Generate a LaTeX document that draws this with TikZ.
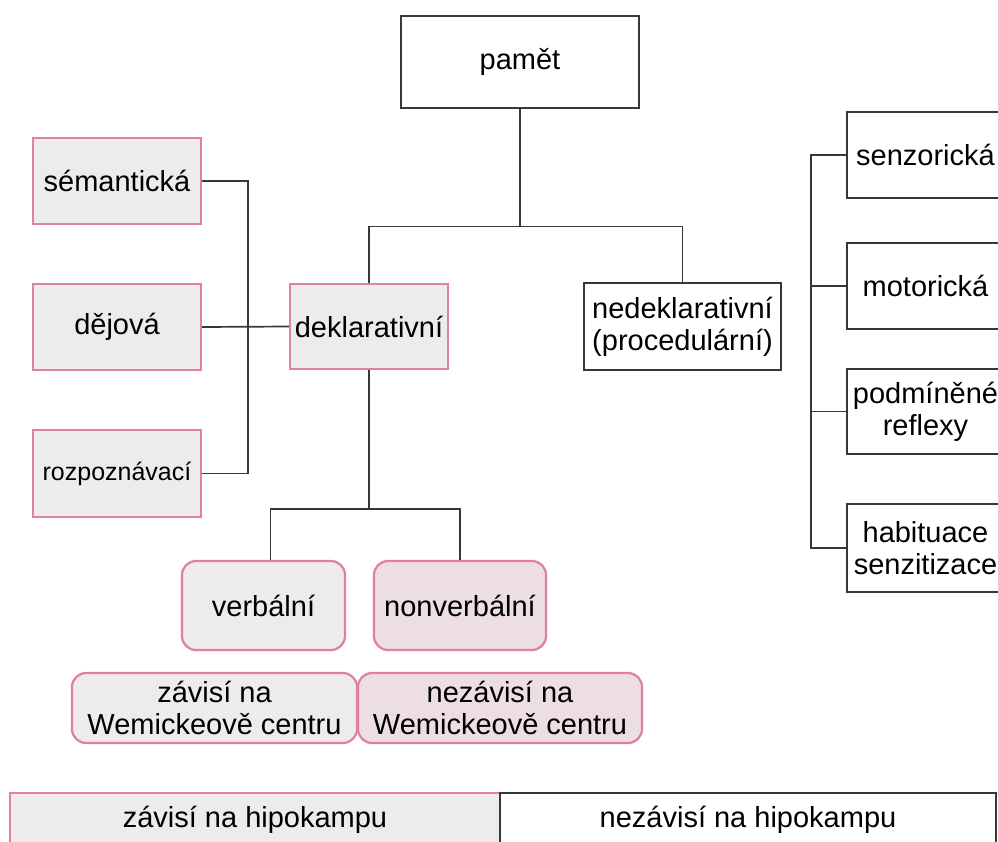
\documentclass[tikz,border=0pt]{standalone}
\usepackage{fontspec}
\setmainfont{Liberation Sans}
\usepackage{tikz}
\usetikzlibrary{positioning}
\usepackage{xcolor}
\definecolor{pinkline}{RGB}{222,128,158}
\definecolor{graybox}{RGB}{238,235,236}
\definecolor{pinkbox}{RGB}{236,222,226}
\definecolor{darkline}{RGB}{55,55,55}
\tikzset{
  basebox/.style={
    rectangle, align=center, inner sep=2pt, font=\fontsize{29}{32}\selectfont
  },
  plainbox/.style={basebox, draw=darkline, line width=1.8pt, fill=white},
  markbox/.style={basebox, draw=pinkline, line width=2.2pt, fill=graybox},
  softbox/.style={markbox, rounded corners=14pt},
  softpink/.style={softbox, fill=pinkbox},
  link/.style={draw=darkline, line width=1.7pt}
}

\begin{document}
\begin{tikzpicture}[x=1pt,y=-1pt]
  \useasboundingbox (0,0) rectangle (998,841);
  \clip (0,0) rectangle (998,841);

  % root and first split
  \node[plainbox,line width=2.8pt,minimum width=238pt,minimum height=92pt] (pamet) at (520,62) {pamět};
  \node[markbox,minimum width=158pt,minimum height=85pt] (dekl) at (369,326.5) {deklarativní};
  \node[plainbox,minimum width=197pt,minimum height=87pt] (nedekl) at (682.5,326.5) {nedeklarativní\\(procedulární)};

  % declarative kinds
  \node[markbox,minimum width=168pt,minimum height=86pt] (sem) at (117,181) {sémantická};
  \node[markbox,minimum width=168pt,minimum height=86pt] (dej) at (117,327) {dějová};
  \node[markbox,minimum width=168pt,minimum height=87pt,font=\fontsize{25}{29}\selectfont] (rozp) at (117,473.5) {rozpoznávací};

  \node[softbox,minimum width=163pt,minimum height=89pt] (verb) at (263.5,605.5) {verbální};
  \node[softpink,minimum width=172pt,minimum height=89pt] (nonverb) at (460,605.5) {nonverbální};
  \node[softbox,minimum width=285pt,minimum height=70pt,inner sep=0pt] (zavW) at (214.5,708) {závisí na\\Wemickeově centru};
  \node[softpink,minimum width=284pt,minimum height=70pt,inner sep=0pt] (nezavW) at (500,708) {nezávisí na\\Wemickeově centru};

  % hippocampus strip
  \node[markbox,minimum width=490pt,minimum height=54pt] (zavH) at (255,820) {závisí na hipokampu};
  \node[plainbox,minimum width=496pt,minimum height=54pt] (nezavH) at (748,820) {nezávisí na hipokampu};

  % non-declarative kinds
  \node[plainbox,minimum width=157pt,minimum height=86pt] (senz) at (925.5,155) {senzorická};
  \node[plainbox,minimum width=157pt,minimum height=86pt] (motor) at (925.5,286) {motorická};
  \node[plainbox,minimum width=157pt,minimum height=85pt] (podm) at (925.5,411.5) {podmíněné\\reflexy};
  \node[plainbox,minimum width=157pt,minimum height=88pt] (habit) at (925.5,548) {habituace\\senzitizace};

  % connectors
  \draw[link] (pamet.south) -- ++(0,117) coordinate (split);
  \draw[link] (dekl.north) |- (split) -| (nedekl.north);
  \draw[link] (dekl.south) -- ++(0,139) coordinate (split2);
  \draw[link] ([xshift=7pt]verb.north) |- (split2) -| (nonverb.north);

  \draw[link] (sem.east) -- ++(46,0) |- (rozp.east);
  \draw[link] (dej.east) -- (dekl.west);

  \draw[link] (senz.west) -- ++(-35,0) |- (habit.west);
  \draw[link] (motor.west) -- ++(-35,0);
  \draw[link] (podm.west) -- ++(-35,0);
\end{tikzpicture}
\end{document}
